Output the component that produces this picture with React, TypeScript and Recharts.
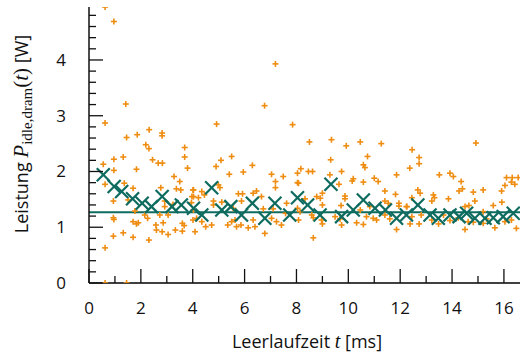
import { ReferenceLine, Scatter, ScatterChart, XAxis, YAxis } from "recharts";

const ORANGE = "#ee8d12";
const TEAL = "#0e6b5f";
const SANS = "'Open Sans', sans-serif";
const SERIF = "'Liberation Serif', serif";

// raw idle samples [t ms, P W]
const idleSamples: [number, number][] = [
  [0.62, 4.95], [0.96, 4.69], [1.42, 3.21], [0.62, 2.87], [4.92, 2.85], [6.77, 3.18], [7.19, 3.93],
  [7.85, 2.84], [8.5, 2.53], [9.35, 2.57], [9.92, 2.46], [10.46, 2.53], [11.27, 2.5], [12.46, 2.39],
  [14.92, 2.51],
  [2.32, 2.75], [2.82, 2.69], [2.82, 2.64], [1.45, 2.61], [1.86, 2.66], [2.19, 2.48], [2.31, 2.41],
  [3.69, 2.43], [3.69, 2.26], [2.45, 2.21], [2.67, 2.15], [2.83, 2.15], [1.32, 2.26], [0.96, 2.22],
  [0.55, 2.13], [0.96, 2.02], [1.83, 2.04], [3.8, 2.06], [3.28, 1.91], [3.5, 1.82], [0.62, 1.77],
  [1.36, 1.79], [1.7, 1.7], [2.77, 1.71], [3.37, 1.69], [3.54, 1.67], [4.01, 1.67], [3.97, 1.55],
  [0.94, 1.47], [1.51, 1.49], [2.92, 1.47], [3.95, 1.44], [3.24, 1.41], [2.92, 1.37], [1.77, 1.29],
  [2.15, 1.22], [2.26, 1.16], [2.73, 1.22], [3.05, 1.22], [0.94, 1.17], [0.96, 1.14], [1.7, 1.1],
  [1.9, 1.08], [1.83, 1.06], [2.58, 1.04], [2.86, 1.08], [3.6, 1.07], [3.67, 1.03], [4.01, 1.13],
  [2.6, 0.95], [2.82, 0.92], [3.05, 0.87], [3.33, 0.95], [3.6, 0.93], [0.94, 0.84], [1.32, 0.9],
  [1.7, 0.82], [2.31, 0.77], [0.62, 0.63], [0.62, 0.0], [1.45, 0.0],
  [5.09, 2.2], [5.5, 2.27], [4.9, 2.09], [6.3, 2.11], [5.41, 1.95], [5.95, 1.99], [7.04, 1.95],
  [7.49, 1.91], [8.04, 1.97], [8.17, 2.05], [7.19, 1.82], [7.19, 1.71], [8.04, 1.8], [4.99, 1.76],
  [5.05, 1.71], [4.03, 1.67], [4.35, 1.64], [4.45, 1.58], [4.22, 1.53], [4.03, 1.55], [5.76, 1.6],
  [5.92, 1.6], [6.33, 1.61], [6.46, 1.65], [6.65, 1.55], [7.62, 1.43], [4.8, 1.47], [5.12, 1.45],
  [5.88, 1.47], [5.56, 1.34], [4.8, 1.4], [4.03, 1.31], [4.15, 1.16], [4.09, 0.92], [4.35, 1.1],
  [4.5, 1.01], [4.73, 1.04], [5.35, 1.04], [5.5, 1.1], [5.69, 1.01], [5.86, 1.04], [6.14, 0.99],
  [6.4, 1.01], [6.33, 1.13], [5.63, 1.13], [6.72, 1.33], [7.1, 1.33], [7.23, 1.1], [7.42, 1.04],
  [7.04, 1.16], [6.78, 0.89], [8.04, 1.34], [7.58, 1.25],
  [9.32, 2.21], [10.74, 2.27], [10.58, 2.12], [10.64, 2.07], [8.46, 2.0], [8.62, 2.0], [9.74, 2.0],
  [11.86, 1.94], [9.29, 1.94], [8.08, 1.79], [9.64, 1.77], [10.19, 1.87], [10.15, 1.83], [10.58, 1.81],
  [11.0, 1.88], [11.15, 1.82], [11.41, 1.65], [11.82, 1.59], [8.78, 1.55], [8.92, 1.52], [9.0, 1.61],
  [8.33, 1.51], [9.87, 1.56], [9.87, 1.51], [9.0, 1.4], [9.72, 1.39], [11.41, 1.47], [11.54, 1.43],
  [11.95, 1.43], [11.95, 1.38], [12.24, 1.37], [8.14, 1.28], [8.59, 1.22], [8.65, 1.17], [8.97, 1.13],
  [9.0, 1.06], [9.49, 1.19], [9.68, 1.15], [9.74, 1.04], [10.32, 1.08], [10.58, 1.05], [10.7, 1.19],
  [10.96, 1.16], [11.09, 1.13], [11.41, 1.22], [11.6, 1.15], [11.86, 0.96], [10.46, 1.31], [10.83, 1.37],
  [8.08, 1.13], [8.65, 0.81],
  [12.73, 2.25], [12.73, 2.14], [12.37, 2.06], [13.51, 1.94], [13.92, 1.97], [14.05, 1.91], [14.35, 1.82],
  [14.4, 1.69], [14.27, 1.65], [14.82, 1.63], [15.2, 1.67], [15.91, 1.65], [16.04, 1.75], [16.1, 1.89],
  [16.32, 1.89], [16.29, 1.81], [16.42, 1.77], [16.55, 1.89], [12.68, 1.67], [12.77, 1.61], [12.45, 1.53],
  [13.28, 1.58], [13.32, 1.53], [13.22, 1.47], [13.86, 1.51], [14.88, 1.47], [15.92, 1.45], [15.59, 1.39],
  [14.5, 1.37], [14.65, 1.39], [12.26, 1.37], [12.81, 1.22], [12.45, 1.19], [12.38, 1.06], [12.73, 1.06],
  [13.22, 1.13], [13.48, 1.06], [13.67, 1.22], [13.92, 1.12], [14.24, 1.17], [14.62, 1.1], [14.82, 1.09],
  [15.2, 1.07], [15.33, 1.15], [15.65, 0.99], [14.5, 0.96], [16.29, 1.13], [16.48, 0.98], [16.04, 1.1],
  [15.2, 1.28],
];

// binned means
const binnedMeans: [number, number][] = [
  [0.55, 1.94], [0.97, 1.73], [1.26, 1.64], [1.68, 1.51], [2.05, 1.43], [2.41, 1.37], [2.82, 1.55],
  [3.2, 1.37], [3.56, 1.4], [4.03, 1.34], [4.35, 1.22], [4.73, 1.71], [5.12, 1.31], [5.47, 1.37],
  [5.88, 1.22], [6.3, 1.43], [6.78, 1.16], [7.17, 1.43], [7.74, 1.22], [8.04, 1.53], [8.43, 1.4],
  [8.91, 1.22], [9.33, 1.77], [9.74, 1.19], [10.19, 1.31], [10.58, 1.49], [11.03, 1.34], [11.43, 1.31],
  [11.86, 1.16], [12.24, 1.22], [12.68, 1.4], [13.15, 1.22], [13.47, 1.16], [13.92, 1.22], [14.27, 1.19],
  [14.56, 1.25], [14.88, 1.16], [15.27, 1.16], [15.59, 1.17], [15.97, 1.19], [16.36, 1.25],
];

const fitLevel = 1.27;

const xTicks = [0, 1, 2, 3, 4, 5, 6, 7, 8, 9, 10, 11, 12, 13, 14, 15, 16];
const yTicks = [0, 0.2, 0.4, 0.6, 0.8, 1, 1.2, 1.4, 1.6, 1.8, 2, 2.2, 2.4, 2.6, 2.8, 3, 3.2, 3.4, 3.6, 3.8, 4, 4.2, 4.4, 4.6, 4.8];
const X_MAX = 16.62;
const Y_MAX = 4.95;

const samples = idleSamples.map(([x, y]) => ({ x, y }));
const means = binnedMeans.map(([x, y]) => ({ x, y }));

const isMajorX = (v: number) => v % 2 === 0;
const isMajorY = (v: number) => Math.abs(v - Math.round(v)) < 1e-6;

const MAJOR = 14;
const MINOR = 7;

function makeXTick(side: "bottom" | "top") {
  return (props: any) => {
    const { x, y, payload } = props;
    const v = payload.value as number;
    const len = isMajorX(v) ? MAJOR : MINOR;
    const dir = side === "bottom" ? -1 : 1;
    return (
      <g>
        <line x1={x} x2={x} y1={y} y2={y + dir * len} stroke="#111" strokeWidth={1.3} />
        {side === "bottom" && isMajorX(v) ? (
          <text x={x} y={y + 31} textAnchor="middle" fontFamily={SANS} fontSize={17} fill="#111">
            {v}
          </text>
        ) : null}
      </g>
    );
  };
}

function makeYTick(side: "left" | "right") {
  return (props: any) => {
    const { x, y, payload } = props;
    const v = payload.value as number;
    const len = isMajorY(v) ? MAJOR : MINOR;
    const dir = side === "left" ? 1 : -1;
    return (
      <g>
        <line x1={x} x2={x + dir * len} y1={y} y2={y} stroke="#111" strokeWidth={1.3} />
        {side === "left" && isMajorY(v) ? (
          <text x={x - 23} y={y + 6} textAnchor="end" fontFamily={SANS} fontSize={17} fill="#111">
            {Math.round(v)}
          </text>
        ) : null}
      </g>
    );
  };
}

const plusShape = (props: any) => {
  const { cx, cy } = props;
  if (typeof cx !== "number" || typeof cy !== "number") return <g />;
  const s = 3;
  return (
    <g stroke={ORANGE} strokeWidth={1.6}>
      <line x1={cx - s} x2={cx + s} y1={cy} y2={cy} />
      <line x1={cx} x2={cx} y1={cy - s} y2={cy + s} />
    </g>
  );
};

const crossShape = (props: any) => {
  const { cx, cy } = props;
  if (typeof cx !== "number" || typeof cy !== "number") return <g />;
  const s = 6.5;
  return (
    <g stroke={TEAL} strokeWidth={2.2}>
      <line x1={cx - s} x2={cx + s} y1={cy - s} y2={cy + s} />
      <line x1={cx - s} x2={cx + s} y1={cy + s} y2={cy - s} />
    </g>
  );
};

const axisLine = { stroke: "#000", strokeWidth: 1.4 };

export default function App() {
  return (
    <div style={{ position: "absolute", left: 0, top: 0, width: 523, height: 355, background: "#fff" }}>
      <ScatterChart width={523} height={355} margin={{ top: 7, right: 3, bottom: 0, left: 0 }}>
        <XAxis
          xAxisId="b"
          type="number"
          dataKey="x"
          orientation="bottom"
          domain={[0, X_MAX]}
          allowDataOverflow
          ticks={xTicks}
          interval={0}
          height={72}
          tickSize={0}
          tickMargin={0}
          tickLine={false}
          axisLine={axisLine}
          tick={makeXTick("bottom")}
          label={() => (
            <text x={307} y={348} textAnchor="middle" fontFamily={SANS} fontSize={18} fill="#111">
              Leerlaufzeit{" "}
              <tspan fontFamily={SERIF} fontStyle="italic" fontSize={20}>
                t
              </tspan>{" "}
              [ms]
            </text>
          )}
        />
        <XAxis
          xAxisId="t"
          type="number"
          dataKey="x"
          orientation="top"
          domain={[0, X_MAX]}
          allowDataOverflow
          ticks={xTicks}
          interval={0}
          height={0}
          tickSize={0}
          tickMargin={0}
          tickLine={false}
          axisLine={axisLine}
          tick={makeXTick("top")}
        />
        <YAxis
          yAxisId="l"
          type="number"
          dataKey="y"
          orientation="left"
          domain={[0, Y_MAX]}
          allowDataOverflow
          ticks={yTicks}
          interval={0}
          width={89}
          tickSize={0}
          tickMargin={0}
          tickLine={false}
          axisLine={axisLine}
          tick={makeYTick("left")}
          label={() => (
            <text
              x={0}
              y={0}
              transform="translate(28,134) rotate(-90)"
              textAnchor="middle"
              fontFamily={SANS}
              fontSize={18}
              fill="#111"
            >
              Leistung{" "}
              <tspan fontFamily={SERIF} fontStyle="italic" fontSize={21}>
                P
              </tspan>
              <tspan fontFamily={SERIF} fontSize={15} dy={4}>
                idle,dram
              </tspan>
              <tspan fontFamily={SERIF} fontSize={21} dy={-4}>
                (
              </tspan>
              <tspan fontFamily={SERIF} fontStyle="italic" fontSize={21}>
                t
              </tspan>
              <tspan fontFamily={SERIF} fontSize={21}>
                )
              </tspan>{" "}
              [W]
            </text>
          )}
        />
        <YAxis
          yAxisId="r"
          type="number"
          dataKey="y"
          orientation="right"
          domain={[0, Y_MAX]}
          allowDataOverflow
          ticks={yTicks}
          interval={0}
          width={0}
          tickSize={0}
          tickMargin={0}
          tickLine={false}
          axisLine={axisLine}
          tick={makeYTick("right")}
        />
        <Scatter xAxisId="b" yAxisId="l" data={samples} shape={plusShape} isAnimationActive={false} />
        <ReferenceLine
          xAxisId="b"
          yAxisId="l"
          y={fitLevel}
          stroke={TEAL}
          strokeWidth={2}
        />
        <Scatter xAxisId="b" yAxisId="l" data={means} shape={crossShape} isAnimationActive={false} />
      </ScatterChart>
    </div>
  );
}
